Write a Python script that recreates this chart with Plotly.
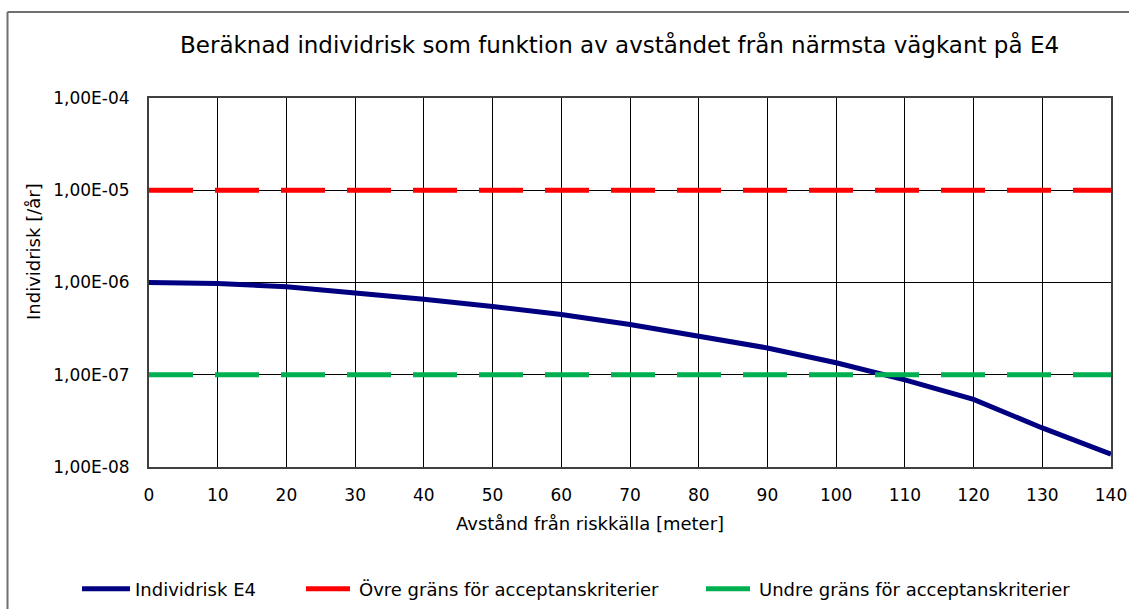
import plotly.graph_objects as go

# Data
distance_m = [0, 10, 20, 30, 40, 50, 60, 70, 80, 90, 100, 110, 120, 130, 140]
risk_e4 = [1.0e-6, 9.75e-7, 9.0e-7, 7.8e-7, 6.6e-7, 5.5e-7, 4.5e-7, 3.5e-7,
           2.65e-7, 1.95e-7, 1.35e-7, 8.8e-8, 5.4e-8, 2.65e-8, 1.38e-8]
upper_limit = [1e-5] * len(distance_m)
lower_limit = [1e-7] * len(distance_m)

y_tickvals = [1e-8, 1e-7, 1e-6, 1e-5, 1e-4]
y_ticktext = ["1,00E-08", "1,00E-07", "1,00E-06", "1,00E-05", "1,00E-04"]
x_tickvals = list(range(0, 141, 10))

title_text = "Beräknad individrisk som funktion av avståndet från närmsta vägkant på E4"
x_title = "Avstånd från riskkälla [meter]"
y_title = "Individrisk [/år]"
names = ["Individrisk E4", "Övre gräns för acceptanskriterier", "Undre gräns för acceptanskriterier"]

FONT = "DejaVu Sans"

L, R, T, B = 149, 19, 98, 143
W, H = 1130, 610
pw, ph = W - L - R, H - T - B

def px_x(p):
    return (p - L) / pw

def px_y(p):
    return (H - B - p) / ph

fig = go.Figure()
fig.add_trace(go.Scatter(x=distance_m, y=risk_e4, mode="lines", name=names[0],
                         line=dict(color="#000080", width=5), legend="legend"))
fig.add_trace(go.Scatter(x=distance_m, y=upper_limit, mode="lines", name=names[1],
                         line=dict(color="#FF0000", width=5, dash="44px,22px"),
                         legend="legend2"))
fig.add_trace(go.Scatter(x=distance_m, y=lower_limit, mode="lines", name=names[2],
                         line=dict(color="#00B050", width=5, dash="44px,22px"),
                         legend="legend3"))

def leg(xpix):
    return dict(orientation="h", x=px_x(xpix), xanchor="left",
                y=px_y(589), yanchor="middle", font=dict(size=18),
                bgcolor="rgba(0,0,0,0)", itemwidth=48)

fig.update_layout(
    template="none",
    width=W, height=H,
    margin=dict(l=L, r=R, t=T, b=B, pad=0, autoexpand=False),
    paper_bgcolor="white", plot_bgcolor="white",
    font=dict(family=FONT, size=17, color="black"),
    showlegend=True,
    legend=leg(77), legend2=leg(301), legend3=leg(701),
    xaxis=dict(range=[0, 140], tickvals=x_tickvals, showgrid=True, automargin=False,
               gridcolor="black", gridwidth=1, zeroline=False,
               showline=True, linecolor="#404040", linewidth=2, mirror=True,
               ticks="", ticklabelstandoff=12, tickfont=dict(size=17)),
    yaxis=dict(type="log", range=[-8, -4], tickvals=y_tickvals, ticktext=y_ticktext,
               showgrid=True, gridcolor="black", gridwidth=1, zeroline=False, automargin=False,
               showline=True, linecolor="#404040", linewidth=2, mirror=True,
               ticks="", ticklabelstandoff=14, tickfont=dict(size=17)),
    annotations=[
        dict(text=title_text, xref="paper", yref="paper", x=px_x(619), y=px_y(44),
             xanchor="center", yanchor="middle", showarrow=False, font=dict(size=23)),
        dict(text=x_title, xref="paper", yref="paper", x=px_x(590), y=px_y(523),
             xanchor="center", yanchor="middle", showarrow=False, font=dict(size=18)),
        dict(text=y_title, xref="paper", yref="paper", x=px_x(33), y=px_y(252),
             xanchor="center", yanchor="middle", showarrow=False, textangle=-90,
             font=dict(size=18)),
    ],
    shapes=[
        dict(type="line", xref="paper", yref="paper", x0=px_x(7.5), y0=px_y(609),
             x1=px_x(7.5), y1=px_y(12), line=dict(color="#707070", width=2)),
        dict(type="line", xref="paper", yref="paper", x0=px_x(7.5), y0=px_y(12),
             x1=px_x(1129), y1=px_y(12), line=dict(color="#707070", width=2)),
    ],
)

post = (
    "document.documentElement.style.margin='0';"
    "document.documentElement.style.overflow='hidden';"
    "document.body.style.margin='0';"
    "document.body.style.overflow='hidden';"
)

fig.write_html("out.html", config={"displayModeBar": False}, post_script=post)
